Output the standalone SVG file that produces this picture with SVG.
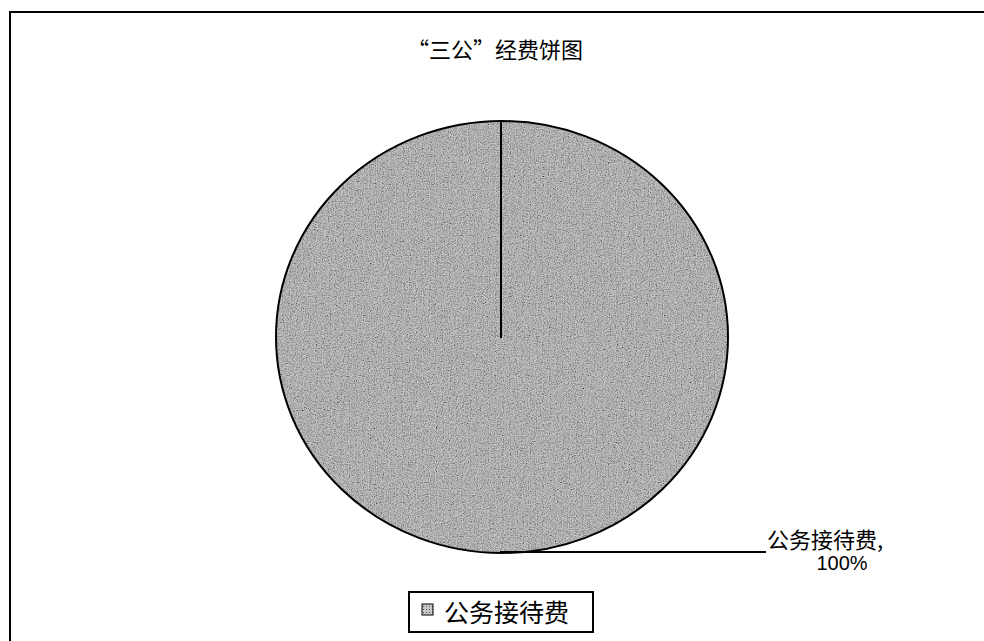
<svg xmlns="http://www.w3.org/2000/svg" width="984" height="641" viewBox="0 0 984 641">
  <defs>
    <style>
      .cjk { font-family: "Noto Sans CJK SC", "Noto Sans", sans-serif; fill: #000; }
      .num { font-family: "Liberation Sans", "DejaVu Sans", sans-serif; fill: #000; }
      .frame { fill: none; stroke: #000; stroke-width: 2; }
      .edge { fill: none; stroke: #000; stroke-width: 2; }
    </style>
    <filter id="grain" x="0" y="0" width="100%" height="100%">
      <feTurbulence type="fractalNoise" baseFrequency="0.85" numOctaves="2" seed="3" result="n"/>
      <feColorMatrix in="n" type="matrix" values="0 0 0 0 0  0 0 0 0 0  0 0 0 0 0  0.9 0.9 0.9 0 -1.12" result="dark"/>
      <feComposite in="dark" in2="SourceGraphic" operator="in" result="darkIn"/>
      <feMerge>
        <feMergeNode in="SourceGraphic"/>
        <feMergeNode in="darkIn"/>
      </feMerge>
    </filter>
    <pattern id="legendFill" width="3" height="3" patternUnits="userSpaceOnUse">
      <rect width="3" height="3" fill="#c8c8c8"/>
      <rect width="1" height="1" fill="#555"/>
    </pattern>
  </defs>

  <rect width="984" height="641" fill="#fff"/>

  <g id="frame">
    <polyline class="frame" points="10,641 10,12 984,12"/>
  </g>

  <g id="title">
    <text class="cjk" x="495" y="58" font-size="22" text-anchor="middle">“三公”经费饼图</text>
  </g>

  <g id="pie">
    <ellipse cx="502" cy="337" rx="226" ry="216" fill="#c4c4c4" filter="url(#grain)"/>
    <ellipse cx="502" cy="337" rx="226" ry="216" class="edge"/>
    <line x1="501" y1="121" x2="501" y2="338" class="edge"/>
  </g>

  <g id="connectors">
    <line x1="500" y1="552" x2="766" y2="552" stroke="#000" stroke-width="2"/>
  </g>

  <g id="data-label">
    <text class="cjk" x="767" y="548" font-size="22">公务接待费,</text>
    <text class="num" x="842" y="570" font-size="20" text-anchor="middle">100%</text>
  </g>

  <g id="legend">
    <rect x="409" y="592" width="184" height="40" fill="#fff" stroke="#000" stroke-width="2"/>
    <rect x="422" y="604" width="11" height="11" fill="url(#legendFill)" stroke="#000" stroke-width="1"/>
    <text class="cjk" x="444" y="622" font-size="25">公务接待费</text>
  </g>
</svg>
